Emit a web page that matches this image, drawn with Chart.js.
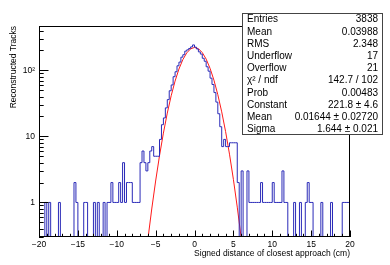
<!DOCTYPE html>
<html>
<head>
<meta charset="utf-8">
<script src="https://cdn.jsdelivr.net/npm/chart.js@4.4.0/dist/chart.umd.min.js"></script>
<style>
  html, body { margin: 0; padding: 0; background: #fff; }
  canvas { display: block; }
</style>
</head>
<body>
<canvas id="dcaChart" width="390" height="265"></canvas>
<script>
// 160 bins of 0.25 cm between -20 and 20
const binLow = -20;
const binHigh = 20;
const binWidth = 0.25;
const counts = [
  0, 0, 0, 0, 1, 0, 1, 0, 0, 0,
  0, 1, 0, 0, 0, 0, 0, 0, 0, 2,
  1, 0, 0, 0, 1, 1, 0, 0, 0, 1,
  0, 1, 0, 0, 1, 0, 1, 1, 2, 1,
  1, 1, 2, 1, 4, 1, 2, 2, 2, 1,
  1, 1, 1, 4, 6, 4, 3, 4, 6, 7,
  5, 5, 5, 9, 15, 19, 27, 36, 49, 60,
  80, 95, 117, 133, 158, 172, 195, 204, 214, 226,
  242, 224, 210, 190, 176, 152, 137, 113, 97, 76,
  61, 46, 33, 22, 14, 7, 9, 7, 7, 8,
  8, 8, 8, 2, 0, 3, 0, 0, 3, 1,
  1, 1, 1, 1, 1, 2, 1, 1, 1, 1,
  1, 2, 1, 1, 1, 1, 3, 1, 1, 0,
  0, 0, 1, 0, 0, 1, 0, 0, 1, 2,
  1, 1, 0, 0, 0, 0, 1, 0, 0, 0,
  0, 1, 0, 0, 0, 0, 0, 1, 1, 1
];

// gaus fit, sampled every 0.5 cm
const fitX = [-6.5, -6, -5.5, -5, -4.5, -4, -3.5, -3, -2.5, -2, -1.5, -1, -0.5, 0,
  0.5, 1, 1.5, 2, 2.5, 3, 3.5, 4, 4.5, 5, 5.5, 6, 6.5];
const fitY = [0.086, 0.274, 0.796, 2.11, 5.10, 11.2, 22.5, 41.2, 68.7, 104.5, 145.0, 183.2, 211.1, 221.8,
  212.4, 185.4, 147.6, 107.1, 70.9, 42.7, 23.5, 11.8, 5.38, 2.24, 0.850, 0.295, 0.093];

const xTicks = [-20, -15, -10, -5, 0, 5, 10, 15, 20];
const yTicks = [1, 10, 100];
const yTickLabels = ['1', '10', '10\u00b2'];

const statLabels = ['Entries', 'Mean', 'RMS', 'Underflow', 'Overflow', '\u03c7\u00b2 / ndf',
  'Prob', 'Constant', 'Mean', 'Sigma'];
const statValues = ['3838', '0.03988', '2.348', '17', '21', '142.7 / 102',
  '0.00483', '221.8 \u00b1 4.6', '0.01644 \u00b1 0.02720', '1.644 \u00b1 0.021'];

const xTitle = 'Signed distance of closest approach (cm)';
const yTitle = 'Reconstructed Tracks';

const FONT = '"Liberation Sans", Arial, Helvetica, sans-serif';

// histogram as a step line: one point per lower bin edge, plus the last edge
const histPoints = counts.map((c, i) => ({ x: binLow + i * binWidth, y: c > 0 ? c : 1e-3 }));
histPoints.push({ x: binHigh, y: histPoints[histPoints.length - 1].y });

const fitPoints = fitX.map((x, i) => ({ x, y: fitY[i] }));

// frame, inner ticks, axis titles and stats box, ROOT style
const rootDecor = {
  id: 'rootDecor',
  afterDraw(chart) {
    const { ctx, chartArea: a, scales } = chart;
    const xs = scales.x, ys = scales.y;
    ctx.save();
    ctx.strokeStyle = '#000';
    ctx.lineWidth = 1;

    // frame
    ctx.strokeRect(a.left + 0.5, a.top + 0.5, a.right - a.left - 1, a.bottom - a.top - 1);

    // x ticks (major every 5, minor every 1)
    ctx.beginPath();
    for (let v = binLow; v <= binHigh; v += 1) {
      const px = Math.round(xs.getPixelForValue(v)) + 0.5;
      const len = v % 5 === 0 ? 6.5 : 3.2;
      ctx.moveTo(px, a.bottom);
      ctx.lineTo(px, a.bottom - len);
    }
    // y ticks (log)
    for (const dec of [0.1, 1, 10, 100]) {
      for (let m = 1; m <= 9; m++) {
        const v = dec * m;
        if (v < ys.min || v > ys.max) continue;
        const py = Math.round(ys.getPixelForValue(v)) + 0.5;
        const len = m === 1 ? 9.5 : 4.7;
        ctx.moveTo(a.left, py);
        ctx.lineTo(a.left + len, py);
      }
    }
    ctx.stroke();

    // axis titles
    ctx.fillStyle = '#000';
    ctx.font = '8.5px ' + FONT;
    ctx.textAlign = 'right';
    ctx.textBaseline = 'middle';
    ctx.fillText(xTitle, a.right, 254);
    ctx.translate(14, a.top);
    ctx.rotate(-Math.PI / 2);
    ctx.fillText(yTitle, 0, 0);
    ctx.setTransform(1, 0, 0, 1, 0, 0);

    // stats box
    const bx = 242, by = 13, bw = 141, bh = 122;
    ctx.fillStyle = '#fff';
    ctx.fillRect(bx, by, bw, bh);
    ctx.strokeStyle = '#444';
    ctx.strokeRect(bx + 0.5, by + 0.5, bw - 1, bh - 1);
    ctx.fillStyle = '#000';
    ctx.font = '10px ' + FONT;
    const rowH = bh / statLabels.length;
    statLabels.forEach((lab, i) => {
      const ty = by + rowH * (i + 0.5) + 0.5;
      ctx.textAlign = 'left';
      ctx.fillText(lab, bx + 5, ty);
      ctx.textAlign = 'right';
      ctx.fillText(statValues[i], bx + bw - 5, ty);
    });
    ctx.restore();
  }
};

new Chart(document.getElementById('dcaChart').getContext('2d'), {
  type: 'line',
  data: {
    datasets: [
      {
        label: 'hist',
        data: histPoints,
        stepped: 'after',
        borderColor: '#2a2ab8',
        borderWidth: 1,
        pointRadius: 0,
        fill: false,
      },
      {
        label: 'gaus',
        data: fitPoints,
        borderColor: '#ff1a1a',
        borderWidth: 1,
        pointRadius: 0,
        fill: false,
      },
    ],
  },
  options: {
    responsive: false,
    animation: false,
    devicePixelRatio: 1,
    layout: { padding: { top: 26, right: 40, left: 0, bottom: 0 } },
    plugins: { legend: { display: false }, tooltip: { enabled: false } },
    scales: {
      x: {
        type: 'linear',
        min: binLow,
        max: binHigh,
        grid: { display: false, drawTicks: false },
        border: { display: false },
        afterBuildTicks: (scale) => { scale.ticks = xTicks.map((v) => ({ value: v })); },
        afterFit: (scale) => { scale.height = 28; },
        ticks: {
          padding: 3,
          maxRotation: 0,
          autoSkip: false,
          color: '#000',
          font: { family: FONT, size: 8.5 },
          callback: (v) => String(v).replace('-', '\u2212'),
        },
      },
      y: {
        type: 'logarithmic',
        min: 0.306,
        max: 468,
        grid: { display: false, drawTicks: false },
        border: { display: false },
        afterBuildTicks: (scale) => { scale.ticks = yTicks.map((v) => ({ value: v })); },
        afterFit: (scale) => { scale.width = 39; },
        ticks: {
          padding: 4,
          autoSkip: false,
          color: '#000',
          font: { family: FONT, size: 8.5 },
          callback: (v) => yTickLabels[yTicks.indexOf(v)] ?? '',
        },
      },
    },
  },
  plugins: [rootDecor],
});
</script>
</body>
</html>
